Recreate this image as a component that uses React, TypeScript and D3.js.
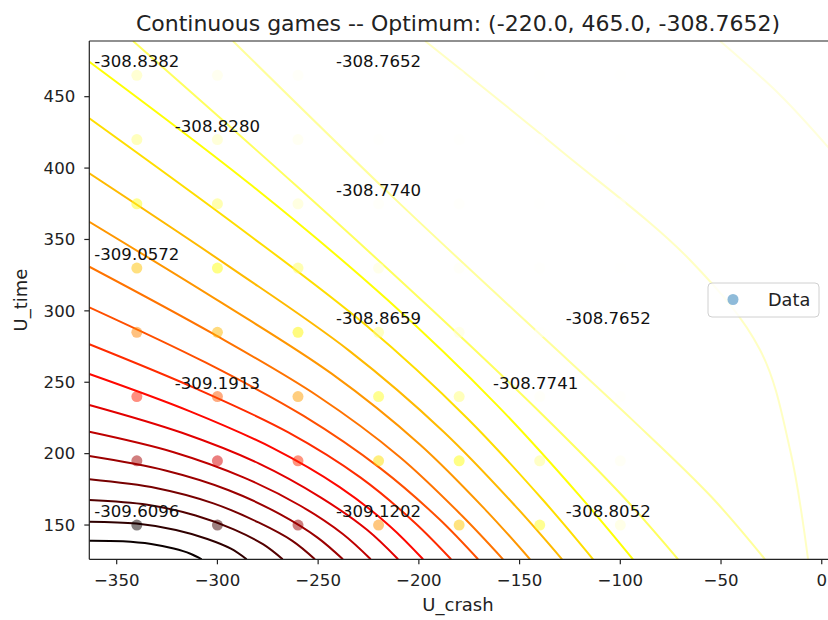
import * as d3 from "d3";

const W = 828;
const H = 620;
// plot box in px (right edge runs past the canvas, like the cropped original)
const box = { left: 89.3, right: 829, top: 41, bottom: 559.3 };

const xDomain = [-363.6, 3.6];
const yDomain = [126, 489];
const xTicks = [-350, -300, -250, -200, -150, -100, -50, 0];
const yTicks = [150, 200, 250, 300, 350, 400, 450];

// contour levels (low -> high), one per drawn line; colormap tops out at levelTop
const levels = [
  -309.66, -309.602, -309.544, -309.486, -309.428, -309.371, -309.313, -309.255, -309.197,
  -309.139, -309.081, -309.024, -308.966, -308.908, -308.85, -308.753, -308.688, -308.645, -308.618,
];
const levelTop = -308.58;

// contour paths, [U_crash, U_time]
const contourLines: [number, number][][] = [
  [[-363.6, 139.0], [-346.9, 138.6], [-332.9, 136.7], [-321.7, 133.5], [-313.4, 129.9], [-307.8, 126]],
  [[-363.6, 152.3], [-340.2, 151.0], [-320.6, 146.5], [-305.0, 140.2], [-293.3, 133.4], [-285.5, 126]],
  [[-363.6, 167.5], [-334.8, 164.2], [-310.8, 156.7], [-291.6, 146.8], [-277.2, 136.4], [-267.6, 126]],
  [[-363.6, 182.0], [-330.0, 175.8], [-302.0, 165.2], [-279.6, 151.8], [-262.8, 138.9], [-251.6, 126]],
  [[-363.6, 198.3], [-325.8, 188.2], [-294.4, 174.4], [-269.2, 157.8], [-250.3, 141.2], [-237.7, 126]],
  [[-363.6, 215.3], [-321.7, 201.0], [-286.8, 183.2], [-258.8, 163.5], [-237.9, 143.9], [-223.9, 126]],
  [[-363.6, 234.1], [-317.6, 214.6], [-279.3, 193.0], [-248.6, 169.2], [-225.6, 146.5], [-210.3, 126]],
  [[-363.6, 255.8], [-313.9, 229.8], [-272.5, 203.9], [-239.3, 176.6], [-214.5, 149.4], [-197.9, 126]],
  [[-363.6, 276.6], [-309.7, 245.0], [-264.8, 214.9], [-228.9, 183.2], [-202.0, 151.6], [-184.0, 126]],
  [[-363.6, 302.5], [-305.7, 263.7], [-257.4, 226.6], [-218.9, 189.5], [-189.9, 154.2], [-170.6, 126]],
  [[-363.6, 330.9], [-302.0, 283.8], [-250.6, 240.7], [-209.5, 197.7], [-178.7, 156.7], [-158.2, 126]],
  [[-363.6, 362.4], [-298.0, 305.7], [-243.3, 256.0], [-199.5, 206.4], [-166.7, 160.3], [-144.8, 126]],
  [[-363.6, 396.3], [-293.2, 330.1], [-234.5, 272.0], [-187.6, 215.2], [-152.4, 163.8], [-128.9, 126]],
  [[-363.6, 434.9], [-288.6, 357.7], [-226.1, 289.7], [-176.0, 224.8], [-138.5, 167.7], [-113.5, 126]],
  [[-363.6, 474.5], [-282.6, 387.4], [-215.2, 307.2], [-161.2, 234.0], [-120.7, 171.3], [-93.7, 126]],
  [[-341.9, 489], [-260.7, 387.4], [-193.1, 300.2], [-138.9, 227.6], [-98.4, 169.6], [-71.3, 126]],
  [[-292.3, 489], [-213.1, 380], [-147.1, 293], [-94.3, 224], [-54.7, 169.6], [-28.2, 126]],
  [[-196.9, 489], [-129.9, 412.7], [-65.4, 335.6], [-30.6, 272.6], [-15.7, 202.5], [-6.8, 126]],
  [[-50.5, 489], [-20.7, 451.2], [3.6, 414]],
];

// sampled points
const crashVals = [-340, -300, -260, -220, -180, -140, -100];
const timeVals = [150, 195, 240, 285, 330, 375, 420, 465];
const objective = [
  [-309.6096, -309.416, -309.264, -309.135, -309.0572, -308.953, -308.876, -308.8382],
  [-309.549, -309.352, -309.1913, -309.07, -308.97, -308.894, -308.828, -308.79],
  [-309.428, -309.249, -309.102, -308.988, -308.894, -308.815, -308.785, -308.775],
  [-309.1202, -309.02, -308.95, -308.8659, -308.8, -308.774, -308.768, -308.7652],
  [-309.05, -308.97, -308.88, -308.8, -308.775, -308.77, -308.768, -308.767],
  [-308.95, -308.86, -308.7741, -308.77, -308.768, -308.767, -308.767, -308.767],
  [-308.8052, -308.78, -308.77, -308.7652, -308.766, -308.766, -308.766, -308.766],
];

// annotated values and where their text sits
const noteCrash = [-340, -340, -340, -300, -300, -220, -220, -220, -220, -142, -106, -106];
const noteTime = [465, 330, 150, 420, 240, 465, 375, 285, 150, 240, 285, 150];
const noteText = [
  "-308.8382", "-309.0572", "-309.6096", "-308.8280", "-309.1913", "-308.7652",
  "-308.7740", "-308.8659", "-309.1202", "-308.7741", "-308.7652", "-308.8052",
];

const font = "DejaVu Sans";

export default function App() {
  const x = d3.scaleLinear().domain(xDomain).range([box.left, box.right]);
  const y = d3.scaleLinear().domain(yDomain).range([box.bottom, box.top]);

  // matplotlib "hot"
  const hot = d3
    .scaleLinear<string>()
    .domain([0, 0.365, 0.746, 1])
    .range(["#0b0000", "#ff0000", "#ffff00", "#ffffff"])
    .clamp(true);
  const levelT = d3.scaleLinear().domain([levels[0], levelTop]).range([0, 1]);

  const flat = objective.flat();
  const ptT = d3.scaleLinear().domain(d3.extent(flat) as [number, number]).range([0, 1]);

  const line = d3
    .line<[number, number]>()
    .x((d) => x(d[0]))
    .y((d) => y(d[1]))
    .curve(d3.curveCatmullRom.alpha(0.5));

  const points: { cx: number; cy: number; v: number }[] = [];
  crashVals.forEach((c, i) =>
    timeVals.forEach((t, j) => points.push({ cx: c, cy: t, v: objective[i][j] }))
  );

  return (
    <svg
      width={W}
      height={H}
      style={{ position: "absolute", left: 0, top: 0, background: "#fff" }}
      fontFamily={font}
    >
      <defs>
        <clipPath id="plot">
          <rect x={box.left} y={box.top} width={box.right - box.left} height={box.bottom - box.top} />
        </clipPath>
      </defs>
      <rect width={W} height={H} fill="#fff" />

      <g clipPath="url(#plot)">
        {contourLines.map((pts, i) => (
          <path key={i} d={line(pts) || ""} fill="none" stroke={hot(levelT(levels[i]))} strokeWidth={2} />
        ))}
        {points.map((p, i) => (
          <circle key={i} cx={x(p.cx)} cy={y(p.cy)} r={5.5} fill={hot(ptT(p.v))} fillOpacity={0.5} />
        ))}
      </g>

      {noteText.map((t, i) => (
        <text key={i} x={x(noteCrash[i])} y={y(noteTime[i]) - 8} textAnchor="middle" fontSize={16.6} fill="#111">
          {t}
        </text>
      ))}

      {/* spines */}
      <line x1={box.left} x2={box.right} y1={box.top} y2={box.top} stroke="#222" strokeWidth={1.2} />
      <line x1={box.left} x2={box.right} y1={box.bottom} y2={box.bottom} stroke="#222" strokeWidth={1.2} />
      <line x1={box.left} x2={box.left} y1={box.top} y2={box.bottom} stroke="#222" strokeWidth={1.2} />

      {xTicks.map((t) => (
        <g key={t} transform={`translate(${x(t)},${box.bottom})`}>
          <line y2={5} stroke="#222" strokeWidth={1.2} />
          <text y={27} textAnchor="middle" fontSize={16.6} fill="#222">
            {t < 0 ? "\u2212" + Math.abs(t) : t}
          </text>
        </g>
      ))}
      {yTicks.map((t) => (
        <g key={t} transform={`translate(${box.left},${y(t)})`}>
          <line x2={-5} stroke="#222" strokeWidth={1.2} />
          <text x={-14} dy="0.35em" textAnchor="end" fontSize={16.6} fill="#222">
            {t}
          </text>
        </g>
      ))}

      <text x={458} y={611} textAnchor="middle" fontSize={18} fill="#222">
        U_crash
      </text>
      <text transform="translate(27,300) rotate(-90)" textAnchor="middle" fontSize={18} fill="#222">
        U_time
      </text>
      <text x={458} y={31} textAnchor="middle" fontSize={22} fill="#222">
        Continuous games -- Optimum: (-220.0, 465.0, -308.7652)
      </text>

      {/* legend */}
      <g>
        <rect x={708} y={283} width={111} height={34} rx={4} fill="#fff" fillOpacity={0.8} stroke="#d0d0d0" />
        <circle cx={733} cy={299.5} r={5.5} fill="#1f77b4" fillOpacity={0.5} />
        <text x={768} y={305.5} fontSize={17.7} fill="#222">
          Data
        </text>
      </g>
    </svg>
  );
}
